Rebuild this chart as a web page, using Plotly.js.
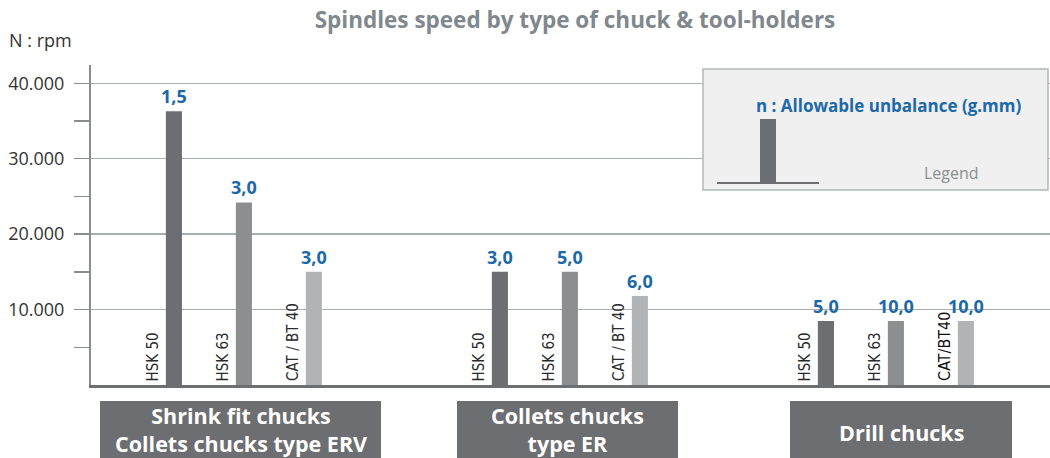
<!DOCTYPE html>
<html>
<head>
<meta charset="utf-8">
<script src="https://cdn.plot.ly/plotly-3.0.1.min.js"></script>
<style>html,body{margin:0;padding:0;background:#fff;}#chart{width:1050px;height:458px;}</style>
</head>
<body>
<div id="chart"></div>
<script>
// ---- data ----
var groups = ['Shrink fit', 'Collets ER', 'Drill'];
var groupLabels = ['Shrink fit chucks<br>Collets chucks type ERV', 'Collets chucks<br>type ER', 'Drill chucks'];
var holders = ['HSK 50', 'HSK 63', 'CAT / BT 40'];
var holderLabelsByGroup = [
  ['HSK 50', 'HSK 63', 'CAT / BT 40'],
  ['HSK 50', 'HSK 63', 'CAT / BT 40'],
  ['HSK 50', 'HSK 63', 'CAT/BT40']
];
var speedHSK50 = [36300, 15000, 8500];
var speedHSK63 = [24200, 15000, 8500];
var speedCAT40 = [15000, 11800, 8500];
var unbalHSK50 = ['1,5', '3,0', '5,0'];
var unbalHSK63 = ['3,0', '5,0', '10,0'];
var unbalCAT40 = ['3,0', '6,0', '10,0'];
var yTickVals = [10000, 20000, 30000, 40000];
var yTickText = ['10.000', '20.000', '30.000', '40.000'];
var yMinorVals = [5000, 15000, 25000, 35000];

// ---- styles ----
var W = 1050, H = 458, ML = 91, MR = 0, MT = 65, MB = 73;
var PW = W - ML - MR, PH = H - MT - MB;
function px(x) { return (x - ML) / PW; }
function py(y) { return (H - MB - y) / PH; }
var barColors = ['#6d6e71', '#8c8e90', '#b1b3b5'];
var blue = '#1d69a8';
var bargap = 0.356, bargroupgap = 0.77;
var FONT = 'Open Sans, Noto Sans, sans-serif';
var NARROW = 'Liberation Sans Narrow, Arial Narrow, DejaVu Sans Condensed, sans-serif';

var series = [speedHSK50, speedHSK63, speedCAT40];
var unbal = [unbalHSK50, unbalHSK63, unbalCAT40];
var traces = series.map(function (vals, i) {
  return {
    type: 'bar', name: holders[i], x: groups, y: vals,
    marker: {color: barColors[i]},
    text: unbal[i], textposition: 'outside', constraintext: 'none', cliponaxis: false,
    textfont: {family: FONT, size: 18, weight: 'bold', color: blue},
    hoverinfo: 'skip'
  };
});

var annotations = [];
var slot = (1 - bargap) / 3;
groups.forEach(function (g, gi) {
  holderLabelsByGroup[gi].forEach(function (lab, i) {
    var special = (lab === 'CAT/BT40');
    annotations.push({
      xref: 'x', yref: 'y', x: gi + (i - 1) * slot, y: 0,
      xanchor: 'right', yanchor: 'bottom', xshift: -10, yshift: 2,
      textangle: -90, showarrow: false, text: lab,
      font: {family: NARROW, size: special ? 16 : 15, color: special ? '#111' : '#2a2a2a'}
    });
  });
});

// category boxes
var boxX = [[100, 381], [457, 678], [790, 1012]];
var shapes = [];
boxX.forEach(function (b, i) {
  shapes.push({type: 'rect', xref: 'paper', yref: 'paper', x0: px(b[0]), x1: px(b[1]),
    y0: py(480), y1: py(401), fillcolor: '#6d6e71', line: {width: 0}});
  annotations.push({xref: 'paper', yref: 'paper', x: px((b[0] + b[1]) / 2),
    y: py(i === 2 ? 432 : 429), xanchor: 'center', yanchor: 'middle', showarrow: false,
    text: groupLabels[i], font: {family: FONT, size: 21.5, weight: 'bold', color: '#ffffff'}});
});

// legend box
shapes.push({type: 'rect', xref: 'paper', yref: 'paper', x0: px(703), x1: px(1048),
  y0: py(190), y1: py(69), fillcolor: '#f0f0f0', line: {color: '#b3b6b8', width: 1.5}});
shapes.push({type: 'rect', xref: 'paper', yref: 'paper', x0: px(760), x1: px(776),
  y0: py(183), y1: py(119), fillcolor: '#6d6e71', line: {width: 0}});
shapes.push({type: 'line', xref: 'paper', yref: 'paper', x0: px(717), x1: px(819),
  y0: py(183), y1: py(183), line: {color: '#6d6e71', width: 2}});
annotations.push({xref: 'paper', yref: 'paper', x: px(754), y: py(105), xanchor: 'left', yanchor: 'middle',
  showarrow: false, text: 'n : Allowable unbalance (g.mm)',
  font: {family: FONT, size: 17, weight: 'bold', color: blue}});
annotations.push({xref: 'paper', yref: 'paper', x: px(922), y: py(173), xanchor: 'left', yanchor: 'middle',
  showarrow: false, text: 'Legend', font: {family: FONT, size: 16, color: '#8c8f92'}});
annotations.push({xref: 'paper', yref: 'paper', x: px(7), y: py(40), xanchor: 'left', yanchor: 'middle',
  showarrow: false, text: 'N : rpm', font: {family: FONT, size: 18, color: '#333333'}});

var layout = {
  width: W, height: H, margin: {l: ML, r: MR, t: MT, b: MB},
  paper_bgcolor: '#ffffff', plot_bgcolor: '#ffffff',
  showlegend: false, barmode: 'group', bargap: bargap, bargroupgap: bargroupgap,
  separators: ',.',
  title: {text: 'Spindles speed by type of chuck &amp; tool-holders', xref: 'paper', x: px(575), xanchor: 'center',
    yref: 'container', y: 1 - 20 / H, yanchor: 'middle',
    font: {family: FONT, size: 22.5, weight: 'bold', color: '#80888d'}},
  xaxis: {type: 'category', range: [-0.469, -0.469 + PW / 326], showticklabels: false, ticks: '',
    showgrid: false, zeroline: false, showline: true, linecolor: '#6d6e71', linewidth: 2.5, fixedrange: true},
  yaxis: {range: [0, 40000 * PH / 301.7], tickmode: 'array', tickvals: yTickVals, ticktext: yTickText,
    ticks: 'outside', ticklen: 15, tickwidth: 1.5, tickcolor: '#8a8d90', ticklabelstandoff: 6,
    tickfont: {family: FONT, size: 18, color: '#333333'},
    showgrid: true, gridcolor: '#a9aeb2', gridwidth: 1.5, zeroline: false,
    showline: true, linecolor: '#8a8d90', linewidth: 2, fixedrange: true,
    minor: {tickmode: 'array', tickvals: yMinorVals, ticks: 'outside', ticklen: 15, tickwidth: 1.5,
      tickcolor: '#8a8d90', showgrid: false}},
  shapes: shapes, annotations: annotations
};

Plotly.newPlot('chart', traces, layout, {displayModeBar: false, staticPlot: true});
</script>
</body>
</html>
